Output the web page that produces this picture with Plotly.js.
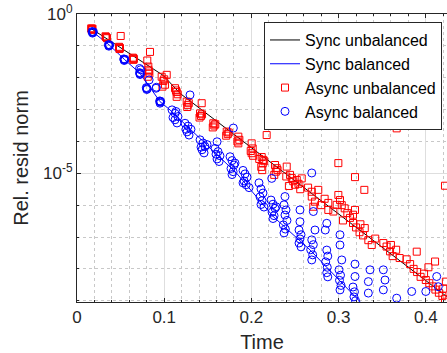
<!DOCTYPE html>
<html>
<head>
<meta charset="utf-8">
<script src="https://cdn.plot.ly/plotly-3.0.1.min.js"></script>
<style>html,body{margin:0;padding:0;background:#fff;overflow:hidden}</style>
</head>
<body>
<div id="chart" style="width:447px;height:353px"></div>
<script>
// ---- data (time, log10 of relative residual norm) ----
const syncUnbalancedTime = [0.0169, 0.0990, 0.1181, 0.2213, 0.3016, 0.4240];
const syncUnbalancedLog10 = [-0.47, -1.93, -2.49, -4.63, -6.31, -8.87];

const syncBalancedTime = [0.0187, 0.0370, 0.0542, 0.0722, 0.0952, 0.1067, 0.1831, 0.2251, 0.2672, 0.3245];
const syncBalancedLog10 = [-0.574, -0.973, -1.421, -1.861, -2.752, -3.012, -5.00, -6.36, -7.405, -9.03];

const asyncUnbalanced = [
  [0.0169,-0.47],[0.0163,-0.45],[0.0172,-0.48],[0.0169,-0.50],[0.0178,-0.46],
  [0.0333,-0.72],[0.0345,-0.76],[0.0327,-0.70],[0.0339,-0.74],[0.0501,-0.69],
  [0.0487,-1.05],[0.0482,-1.03],[0.0493,-1.07],[0.0487,-1.10],
  [0.0646,-1.39],[0.0640,-1.37],[0.0652,-1.41],[0.0646,-1.44],[0.0837,-1.19],[0.0806,-1.46],
  [0.0818,-1.65],[0.0818,-1.75],[0.0830,-1.87],[0.0812,-1.97],[0.0824,-1.80],
  [0.0971,-1.97],[0.0990,-2.10],[0.1009,-2.22],[0.0980,-2.28],[0.1000,-2.05],[0.1029,-1.91],
  [0.1124,-2.33],[0.1143,-2.45],[0.1143,-2.60],[0.1155,-2.52],[0.1135,-2.40],
  [0.1258,-2.75],[0.1270,-2.86],[0.1264,-2.92],[0.1282,-2.80],[0.1430,-2.80],
  [0.1411,-3.12],[0.1422,-3.20],[0.1405,-3.25],[0.1434,-3.15],
  [0.1563,-3.43],[0.1575,-3.50],[0.1557,-3.56],[0.1586,-3.46],
  [0.1717,-3.69],[0.1729,-3.77],[0.1711,-3.82],[0.1740,-3.72],
  [0.1850,-3.85],[0.1850,-4.06],[0.1862,-3.95],[0.1839,-4.00],
  [0.2003,-4.06],[0.2003,-4.37],[0.2015,-4.22],[0.1992,-4.30],[0.2020,-4.45],[0.2175,-3.80],
  [0.2118,-4.49],[0.2136,-4.58],[0.2130,-4.69],[0.2113,-4.80],[0.2147,-4.62],[0.2124,-4.90],[0.2090,-4.55],
  [0.2271,-4.74],[0.2290,-4.84],[0.2280,-4.95],[0.2262,-5.05],[0.2300,-4.90],[0.2405,-4.79],
  [0.2443,-5.05],[0.2463,-5.15],[0.2480,-5.25],[0.2520,-5.21],[0.2500,-5.36],[0.2540,-5.33],[0.2577,-5.16],[0.2400,-5.10],[0.2430,-5.40],[0.2560,-5.50],
  [0.2692,-5.58],[0.2692,-5.73],[0.2767,-5.52],[0.2729,-5.89],[0.2882,-5.93],[0.2882,-6.15],[0.2978,-5.99],[0.2997,-5.68],[0.2710,-6.05],[0.2800,-6.00],[0.2840,-5.80],[0.2650,-5.45],
  [0.3016,-5.84],[0.3036,-6.00],[0.3070,-6.10],[0.3100,-6.25],[0.3130,-6.40],[0.3165,-6.30],[0.3188,-6.15],[0.3050,-6.48],[0.2940,-6.20],
  [0.3165,-6.56],[0.3200,-6.70],[0.3240,-6.85],[0.3280,-6.95],[0.3300,-6.72],[0.3341,-7.10],[0.3380,-7.25],[0.3420,-7.05],[0.3250,-6.60],
  [0.3513,-7.19],[0.3550,-7.30],[0.3590,-7.45],[0.3620,-7.60],[0.3660,-7.40],[0.3600,-7.25],[0.3700,-7.66],[0.3896,-7.46],[0.4106,-7.77],
  [0.3780,-7.70],[0.3820,-7.85],[0.3860,-8.00],[0.3900,-8.10],[0.3940,-8.25],[0.3980,-8.15],[0.4000,-8.35],[0.4030,-7.95],
  [0.4040,-8.45],[0.4080,-8.55],[0.4110,-8.65],[0.4150,-8.75],[0.4190,-8.85],[0.4220,-8.95],[0.4200,-8.62],[0.4230,-8.40],[0.4220,-9.03],
  [0.2997,-4.68],[0.3188,-5.12],[0.3295,-5.52],[0.3666,-3.59],[0.4220,-5.39]
];

const asyncBalanced = [
  [0.0178,-0.57],[0.0172,-0.55],[0.0183,-0.58],[0.0178,-0.60],[0.0189,-0.56],
  [0.0365,-0.98],[0.0360,-0.96],[0.0370,-0.99],[0.0365,-1.01],[0.0375,-0.97],
  [0.0541,-1.43],[0.0536,-1.41],[0.0546,-1.44],[0.0541,-1.46],[0.0550,-1.42],
  [0.0722,-1.86],[0.0717,-1.84],[0.0727,-1.88],[0.0722,-1.90],[0.0717,-1.71],[0.0730,-1.75],
  [0.0799,-2.33],[0.0795,-2.31],[0.0805,-2.35],[0.0800,-2.37],[0.0906,-2.33],[0.0910,-2.30],[0.0827,-2.07],
  [0.0952,-2.75],[0.0948,-2.73],[0.0957,-2.77],[0.0952,-2.80],[0.0960,-2.74],
  [0.1090,-3.01],[0.1124,-3.12],[0.1158,-3.22],[0.1124,-3.32],[0.1147,-3.42],[0.1101,-3.25],[0.1135,-3.06],
  [0.1239,-3.43],[0.1273,-3.52],[0.1307,-3.62],[0.1262,-3.70],[0.1285,-3.80],[0.1250,-3.62],[0.1296,-2.54],
  [0.1411,-3.95],[0.1445,-4.05],[0.1468,-4.16],[0.1434,-4.26],[0.1457,-4.36],[0.1422,-4.18],[0.1491,-4.10],
  [0.1606,-4.01],[0.1583,-4.22],[0.1617,-4.32],[0.1640,-4.45],[0.1606,-4.55],[0.1629,-4.63],[0.1594,-4.40],
  [0.1755,-4.48],[0.1778,-4.60],[0.1801,-4.74],[0.1766,-4.85],[0.1790,-4.95],[0.1778,-5.04],[0.1812,-4.68],[0.1793,-3.58],
  [0.1904,-4.91],[0.1927,-5.02],[0.1950,-5.12],[0.1916,-5.24],[0.1939,-5.36],[0.1973,-5.45],[0.1904,-5.30],
  [0.2087,-5.30],[0.2110,-5.49],[0.2133,-5.62],[0.2099,-5.74],[0.2122,-5.86],[0.2110,-5.98],[0.2144,-6.06],[0.2233,-5.16],
  [0.2225,-5.84],[0.2248,-5.97],[0.2271,-6.10],[0.2237,-6.22],[0.2260,-6.33],[0.2248,-6.42],[0.2283,-6.05],
  [0.2385,-5.73],[0.2374,-5.99],[0.2397,-6.15],[0.2385,-6.31],[0.2366,-6.62],[0.2389,-6.75],[0.2374,-6.87],[0.2408,-6.48],
  [0.2557,-6.15],[0.2557,-6.52],[0.2546,-6.78],[0.2569,-6.93],[0.2557,-7.06],[0.2546,-7.19],[0.2569,-7.31],
  [0.2692,-4.99],[0.2710,-6.20],[0.2729,-6.78],[0.2692,-7.09],[0.2710,-7.24],[0.2680,-7.40],[0.2703,-7.56],[0.2692,-7.72],
  [0.2864,-6.57],[0.2847,-6.78],[0.2864,-7.41],[0.2876,-7.60],[0.2852,-7.78],[0.2870,-7.95],[0.2864,-8.12],[0.2876,-8.25],
  [0.3016,-6.93],[0.3016,-7.25],[0.3036,-7.72],[0.3005,-8.03],[0.3022,-8.20],[0.3010,-8.36],[0.3028,-8.52],[0.3016,-8.66],
  [0.3188,-7.85],[0.3188,-8.24],[0.3165,-8.57],[0.3182,-8.72],[0.3176,-8.88],[0.3194,-9.00],
  [0.3360,-8.03],[0.3341,-8.40],[0.3341,-8.76],
  [0.3513,-8.03],[0.3532,-8.35],[0.3513,-8.66],
  [0.3666,-8.92],[0.3838,-8.71],[0.4000,-8.71],[0.4125,-8.24],[0.4143,-8.56]
];

const xTickVals = [0, 0.1, 0.2, 0.3, 0.4];
const xTickText = ['0', '0.1', '0.2', '0.3', '0.4'];
const xMinorVals = [0.02,0.04,0.06,0.08,0.12,0.14,0.16,0.18,0.22,0.24,0.26,0.28,0.32,0.34,0.36,0.38,0.42];
const yTickVals = [1, 1e-5];
const yTickText = ['10<sup>0</sup>', '10<sup>-5</sup>'];
const yMinorVals = [1e-1,1e-2,1e-3,1e-4,1e-6,1e-7,1e-8,1e-9];

const pow10 = v => Math.pow(10, v);

const traces = [
  {x: syncUnbalancedTime, y: syncUnbalancedLog10.map(pow10), mode: 'lines', name: 'Sync unbalanced',
   line: {color: '#000000', width: 1}},
  {x: syncBalancedTime, y: syncBalancedLog10.map(pow10), mode: 'lines', name: 'Sync balanced',
   line: {color: '#0000ff', width: 1}},
  {x: asyncUnbalanced.map(p => p[0]), y: asyncUnbalanced.map(p => pow10(p[1])), mode: 'markers', name: 'Async unbalanced',
   marker: {symbol: 'square-open', size: 7, color: '#ff0000', line: {width: 1}}},
  {x: asyncBalanced.map(p => p[0]), y: asyncBalanced.map(p => pow10(p[1])), mode: 'markers', name: 'Async balanced',
   marker: {symbol: 'circle-open', size: 8, color: '#0000ff', line: {width: 1}}}
];

const axisCol = '#262626';
const layout = {
  width: 447, height: 353,
  margin: {l: 77, r: 0, t: 14, b: 51},
  paper_bgcolor: '#ffffff', plot_bgcolor: '#ffffff',
  font: {family: 'Liberation Sans, Arial, sans-serif', size: 16, color: axisCol},
  showlegend: true,
  legend: {x: 0.9865, xanchor: 'right', y: 0.972, yanchor: 'top',
           bgcolor: '#ffffff', bordercolor: axisCol, borderwidth: 1,
           font: {size: 16, color: '#000000'}, tracegroupgap: 0},
  xaxis: {range: [0, 0.4243], tickmode: 'array', tickvals: xTickVals, ticktext: xTickText,
          ticks: 'inside', ticklen: 4, tickcolor: axisCol, showline: true, linecolor: axisCol, linewidth: 1,
          mirror: 'ticks', zeroline: false, showgrid: true, gridcolor: '#dedede', gridwidth: 1,
          tickfont: {size: 17},
          minor: {tickmode: 'array', tickvals: xMinorVals, ticks: 'inside', ticklen: 2, tickcolor: axisCol,
                  showgrid: true, gridcolor: '#c8c8c8', griddash: 'dot', gridwidth: 1},
          title: {text: 'Time', font: {size: 20}, standoff: 10}},
  yaxis: {type: 'log', range: [-9.04, 0], tickmode: 'array', tickvals: yTickVals, ticktext: yTickText,
          ticks: 'inside', ticklen: 4, tickcolor: axisCol, showline: true, linecolor: axisCol, linewidth: 1,
          mirror: false, zeroline: false, showgrid: true, gridcolor: '#dedede', gridwidth: 1,
          tickfont: {size: 17},
          minor: {tickmode: 'array', tickvals: yMinorVals, ticks: 'inside', ticklen: 2, tickcolor: axisCol,
                  showgrid: true, gridcolor: '#c8c8c8', griddash: 'dot', gridwidth: 1},
          title: {text: 'Rel. resid norm', font: {size: 20}, standoff: 9}}
};

Plotly.newPlot('chart', traces, layout, {displayModeBar: false, staticPlot: true});
</script>
</body>
</html>
